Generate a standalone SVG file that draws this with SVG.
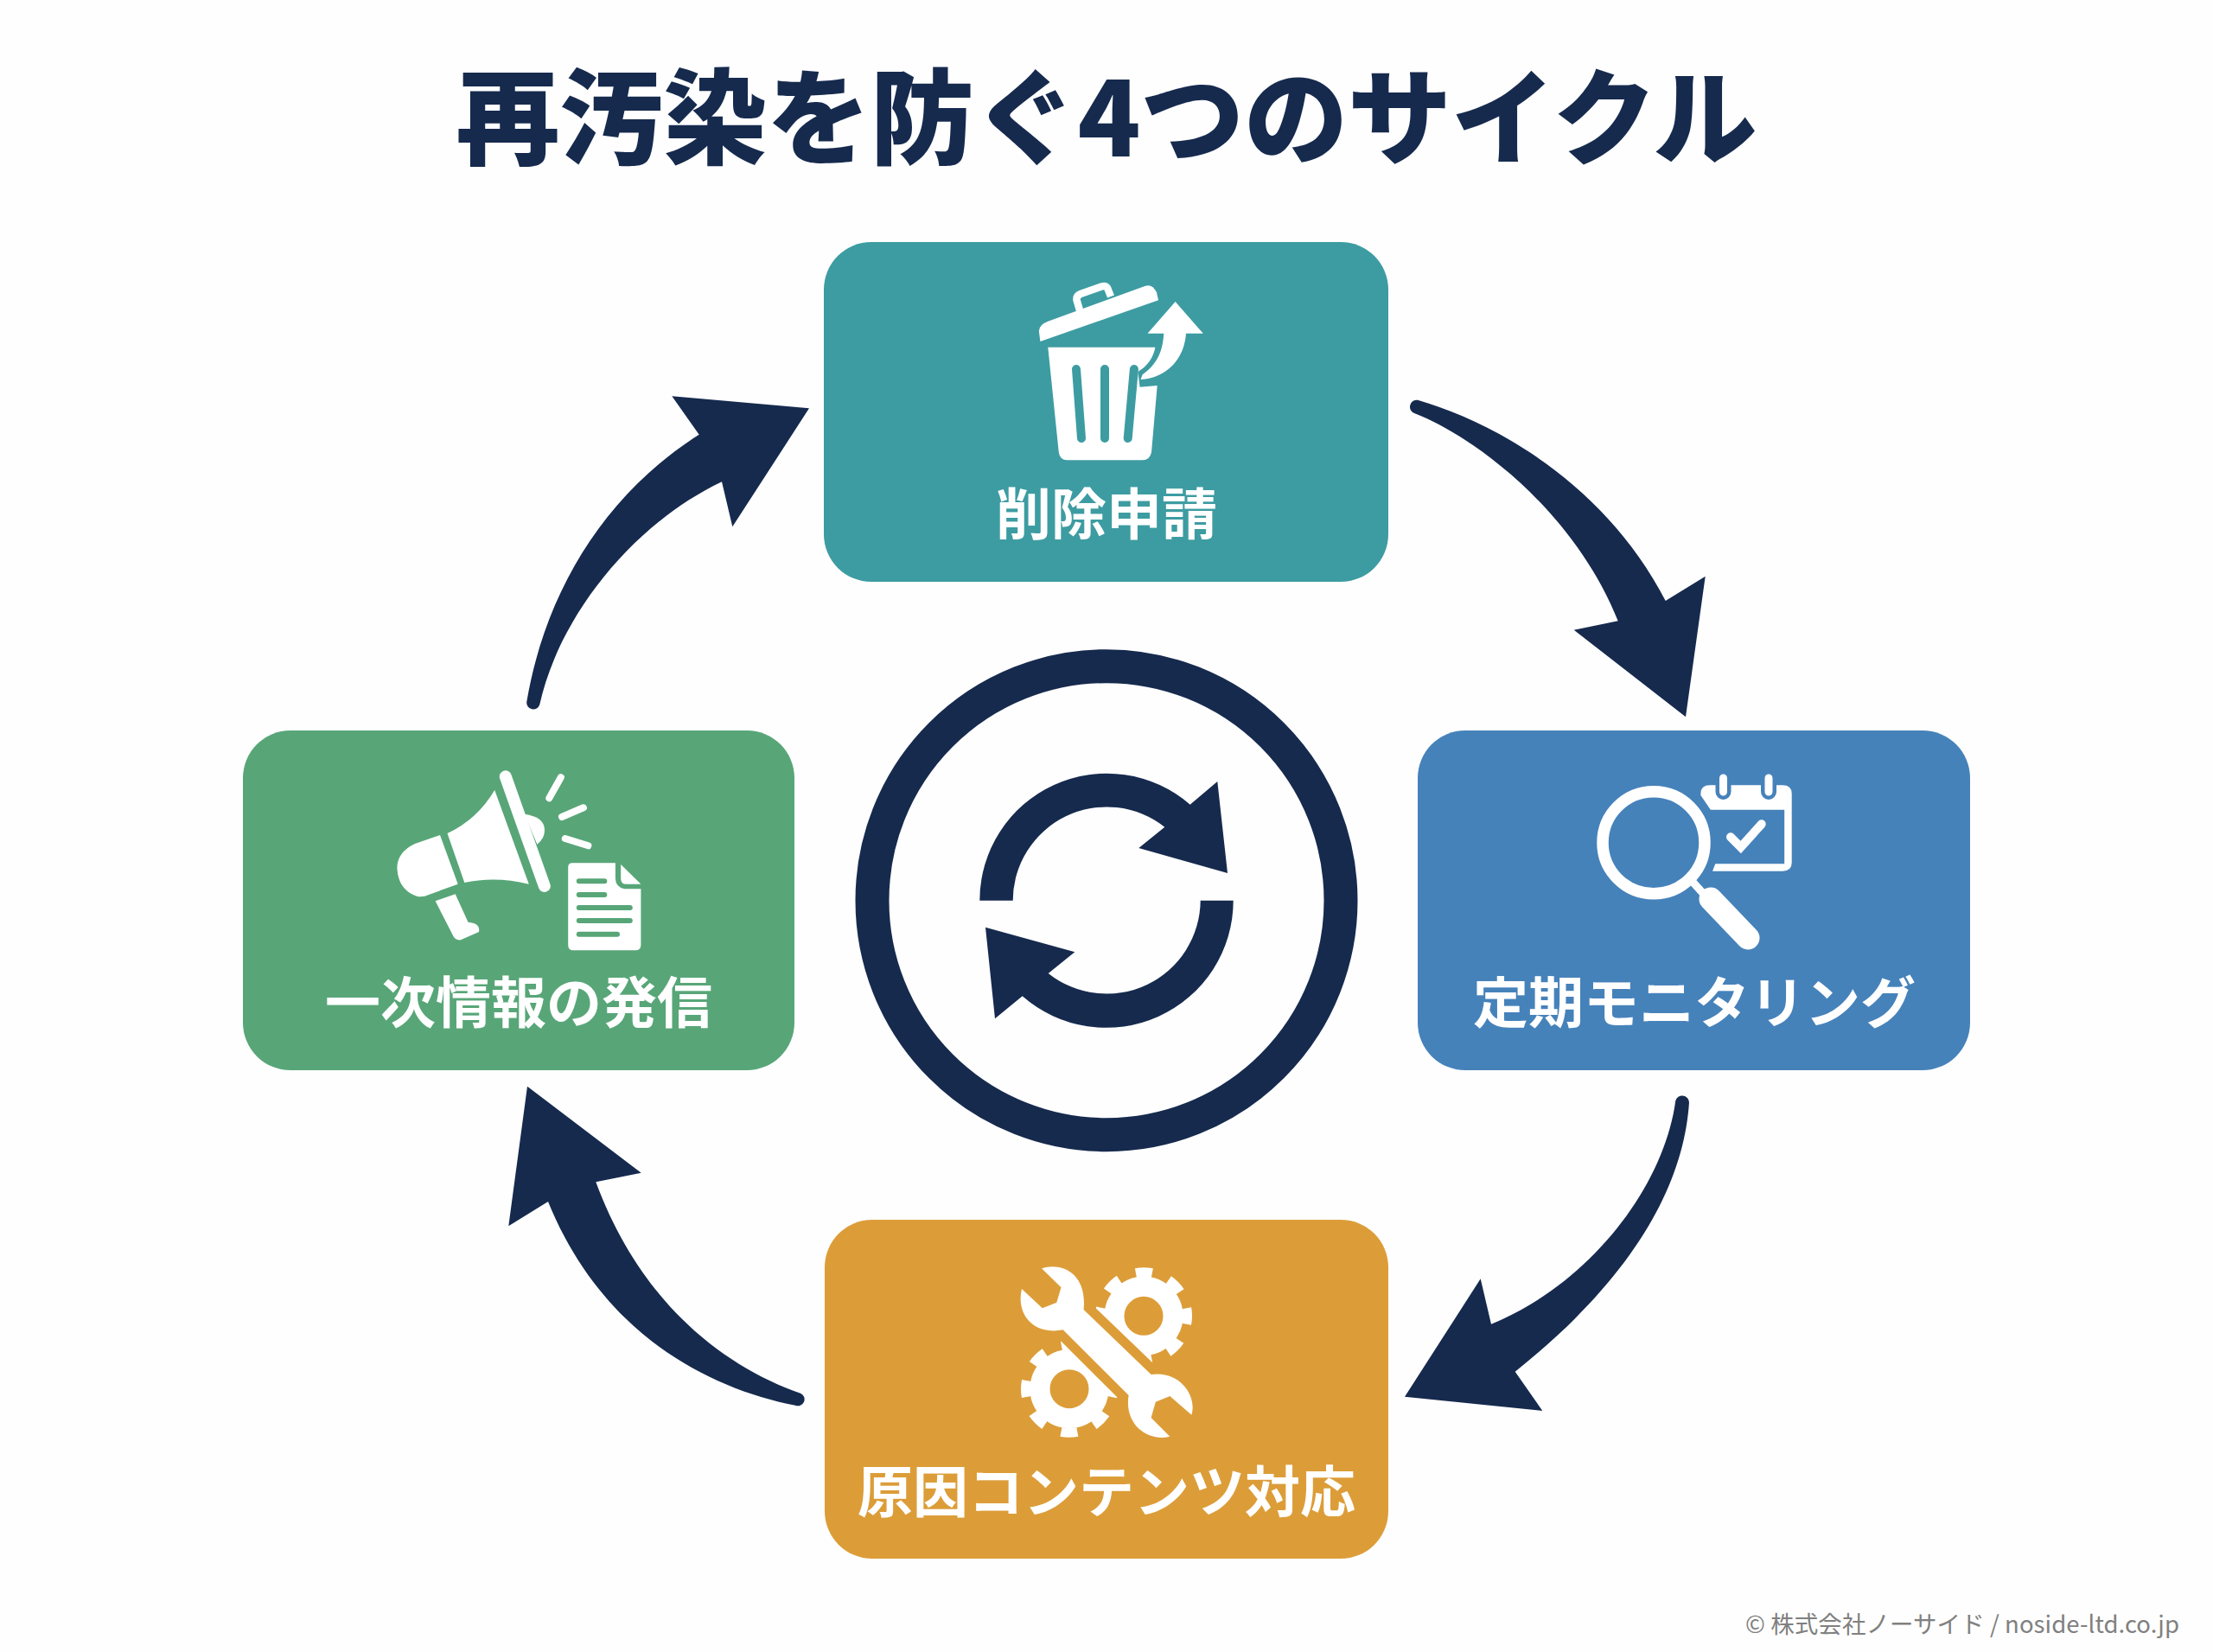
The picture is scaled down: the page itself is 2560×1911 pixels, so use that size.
<svg xmlns="http://www.w3.org/2000/svg" xmlns:xlink="http://www.w3.org/1999/xlink" width="2560" height="1911" viewBox="0 0 2560 1911">
<style>
text{font-family:"Noto Sans CJK JP","Noto Sans",sans-serif}
.title{font-size:120px;font-weight:900;fill:#162a4e;text-anchor:middle}
.label{font-size:64px;font-weight:700;fill:#fff;text-anchor:middle}
.foot{font-size:27.5px;font-weight:400;fill:#808080;text-anchor:end}
.navy{fill:#162a4e}
.w{fill:#fff}
.ws{fill:none;stroke:#fff;stroke-linecap:round}
</style>
<defs>
<g id="gear">
<circle r="34" fill="none" stroke="#fff" stroke-width="23"/>
<circle r="50.5" fill="none" stroke="#fff" stroke-width="11" stroke-dasharray="19 20.66" stroke-dashoffset="9.5"/>
</g>
</defs>
<rect width="2560" height="1911" fill="#fefefe"/>
<text class="title" x="1280" y="181" textLength="1505" lengthAdjust="spacing">再汚染を防ぐ4つのサイクル</text>

<g id="connectors" class="navy">
<path d="M1640 462.7C1735 490 1860 565 1926.7 695L1972.7 666.7L1950 829.3L1820.7 728.7L1871.7 718.3C1820 590 1705 505 1636.7 478.3A8 8 0 0 1 1640 462.7Z"/>
<path d="M1954 1275C1948 1368 1893 1475 1752.7 1586.7L1784.3 1632L1625 1615.7L1712.7 1479.3L1725 1531.7C1840 1485 1925 1372 1938.3 1273.3A8 8 0 0 1 1954 1275Z"/>
<path d="M926 1611.7C835 1580 740 1505 689.3 1367.3L741.7 1356.7L610 1256.7L588.3 1418.3L634 1390C695 1540 815 1605 920 1625.7A7.5 7.5 0 0 0 926 1611.7Z"/>
<path d="M609.3 811.7C630 690 695 575 808.7 502.7L777.3 458.3L936 472.3L847.3 609.3L835 557.3C725 610 645 720 624.3 815A7.7 7.7 0 0 1 609.3 811.7Z"/>
</g>

<g id="center-cycle">
<circle cx="1280" cy="1041.7" r="271" fill="none" stroke="#162a4e" stroke-width="39"/>
<path class="navy" d="M1133.3 1041.7A147 147 0 0 1 1376.7 930.7L1408.3 904L1420 1010L1317.3 981L1347.3 956.7A108.5 108.5 0 0 0 1171.7 1041.7Z"/>
<path class="navy" d="M1426.7 1041.7A147 147 0 0 1 1182.7 1152.3L1151 1178.3L1140 1072.7L1243.3 1101.3L1212.7 1126A108.5 108.5 0 0 0 1388.7 1041.7Z"/>
</g>

<g id="node-delete">
<rect x="953" y="280" width="653" height="393" rx="55" fill="#3d9ca2"/>
<path class="w" d="M1203.4 395L1340 347.3L1338 338.3Q1333 328 1325 330.7L1212.3 371.7Q1201 376 1202 384Z"/>
<path d="M1249 359L1245.5 347Q1245 342 1250 340L1274 331.5Q1279 330 1281 333L1285 343" fill="none" stroke="#fff" stroke-width="8.5"/>
<path class="w" d="M1212.3 401.7L1336.4 401.7Q1333 420 1316.3 430L1318.6 447.7L1338.7 446L1332 523.3Q1330 532.3 1321.7 532.3L1234.6 532.3Q1226 532.3 1224.8 523.3Z"/>
<path d="M1245 427L1251 507M1278 427L1278 507M1311.9 427L1304.7 507" fill="none" stroke="#3d9ca2" stroke-width="10" stroke-linecap="round"/>
<path class="w" d="M1359.6 349L1391.8 385.7L1372 385.7C1370 415 1350 437 1319.5 439L1321.7 433.3C1340 420 1345 405 1346.3 385.7L1327.5 385.7Z"/>
<text class="label" x="1280" y="618">削除申請</text>
</g>

<g id="node-monitoring">
<rect x="1640" y="845" width="639" height="393" rx="55" fill="#4682ba"/>
<circle cx="1913" cy="974.7" r="59" fill="none" stroke="#fff" stroke-width="13.5"/>
<path d="M1958 1020L1976 1040" fill="none" stroke="#fff" stroke-width="9"/>
<path d="M1979 1040L2022 1085" class="ws" stroke-width="27"/>
<path class="w" d="M1967.4 918Q1967.4 908.3 1978 908.3L2062 908.3Q2072.7 908.3 2072.7 918L2072.7 998Q2072.7 1007.7 2062 1007.7L1981 1007.7L1984.3 999.3L2064.2 999.3L2064.2 936.7L1978.8 936.7L1967.4 920Z"/>
<path d="M1993.5 905L1993.5 916M2046 905L2046 916" fill="none" stroke="#4682ba" stroke-width="18" stroke-linecap="round"/>
<path d="M1993.5 900L1993.5 916M2046 900L2046 916" class="ws" stroke-width="9"/>
<path d="M2002 968.3L2013.7 980L2037.7 953.3" fill="none" stroke="#fff" stroke-width="10" stroke-linecap="round"/>
<text class="label" x="1960" y="1183">定期モニタリング</text>
</g>

<g id="node-content">
<rect x="954" y="1411" width="652" height="392" rx="55" fill="#dc9d38"/>
<use xlink:href="#gear" href="#gear" transform="translate(1323 1522.3)"/>
<use xlink:href="#gear" href="#gear" transform="translate(1237 1606.7)"/>
<path d="M1205 1467.3C1225 1460 1258 1470 1253.6 1515L1331.6 1590C1365 1585 1385 1615 1378.4 1636.7L1353.3 1615L1336.8 1621.7L1331.6 1640L1353.3 1661.7C1330 1668 1300 1650 1305.6 1614L1229.7 1538.3C1195 1545 1175 1520 1182 1491L1205.8 1513.3L1222.3 1506.7L1227.5 1489.3Z" fill="#fff" stroke="#dc9d38" stroke-width="22" paint-order="stroke" stroke-linejoin="round"/>
<text class="label" x="1280" y="1749">原因コンテンツ対応</text>
</g>

<g id="node-publish">
<rect x="281" y="845" width="638" height="393" rx="55" fill="#58a678"/>
<path d="M584.8 898.3L629.8 1025" class="ws" stroke-width="14"/>
<path class="w" d="M572.2 914L611.8 1022.7Q573 1013 537.3 1021L517.5 964Q552 948 572.2 914Z"/>
<path class="w" d="M509 966L480 976Q459 986 459.4 1005Q461 1030 483 1037Q490 1038 496 1035L529.7 1022.7Z"/>
<path class="w" d="M503.6 1042.3L526.7 1034.3L541.5 1066.7Q556 1068 554 1078L533 1087.3Q527 1088 524.6 1083.3Z"/>
<path class="w" d="M606.7 941.7Q630 945 630 960Q630 970 621.4 976.7Z"/>
<path d="M648.8 899.3L635.3 923.3M674.9 934.3L650 945M653.8 970L680.4 978.3" class="ws" stroke-width="8"/>
<path class="w" d="M662 998.3L711.9 998.3L711.9 1016Q712 1026 722.4 1028.3L741.4 1028.3L741.4 1093Q741.4 1099.3 735 1099.3L663 1099.3Q657.2 1099.3 657.2 1093L657.2 1003Q657.2 998.3 662 998.3Z"/>
<path class="w" d="M718.2 1000L741.4 1022.7L724.5 1022.7Q718.2 1022.7 718.2 1016.7Z"/>
<path d="M669.8 1019.3L699.3 1019.3M669.8 1035L699.3 1035M669.8 1050L728.8 1050M669.8 1065L728.8 1065M669.8 1080.7L714 1080.7" fill="none" stroke="#58a678" stroke-width="6" stroke-linecap="round"/>
<text class="label" x="600" y="1183">一次情報の発信</text>
</g>

<text class="foot" x="2521" y="1889" textLength="502" lengthAdjust="spacing">© 株式会社ノーサイド / noside-ltd.co.jp</text>
</svg>
